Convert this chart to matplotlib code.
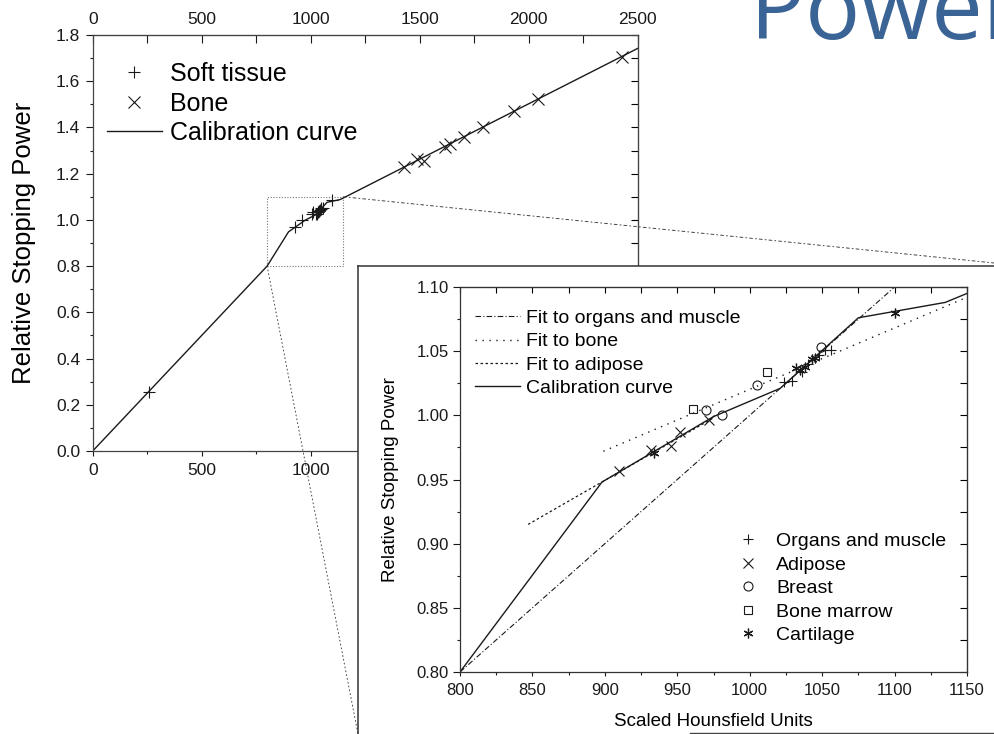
import matplotlib
matplotlib.use('Agg')
import matplotlib.pyplot as plt
from matplotlib.lines import Line2D
from matplotlib.patches import Rectangle, ConnectionPatch
from matplotlib.ticker import MultipleLocator, FormatStrFormatter, FuncFormatter

plt.rcParams['font.family'] = ['Liberation Sans', 'DejaVu Sans']

# ---------------- data ----------------
# calibration curve (scaled HU -> relative stopping power)
cal_hu = [0, 800, 898, 975, 1021, 1075, 1100, 1135, 1150, 2500]
cal_rsp = [0.0, 0.800, 0.948, 0.999, 1.021, 1.076, 1.081, 1.088, 1.095, 1.742]

# main plot markers
soft_hu = [258, 928, 959, 1005, 1012, 1024, 1029, 1032, 1035, 1038, 1040, 1043, 1045, 1049, 1056, 1099]
soft_rsp = [0.256, 0.971, 1.000, 1.024, 1.034, 1.026, 1.027, 1.036, 1.035, 1.038, 1.040, 1.044, 1.045,
            1.053, 1.051, 1.084]
bone_hu = [1429, 1486, 1520, 1616, 1639, 1705, 1790, 1934, 2044, 2427]
bone_rsp = [1.230, 1.262, 1.255, 1.317, 1.327, 1.360, 1.403, 1.473, 1.523, 1.704]

# inset markers
organ_hu = [1024, 1029, 1036, 1040, 1048, 1052, 1056]
organ_rsp = [1.026, 1.027, 1.034, 1.040, 1.047, 1.051, 1.051]
adipose_hu = [910, 932, 946, 952, 972]
adipose_rsp = [0.957, 0.973, 0.976, 0.987, 0.996]
breast_hu = [970, 981, 1005, 1049]
breast_rsp = [1.004, 1.000, 1.024, 1.053]
marrow_hu = [961, 1012]
marrow_rsp = [1.005, 1.034]
cart_hu = [934, 1032, 1035, 1038, 1043, 1045, 1100]
cart_rsp = [0.971, 1.037, 1.035, 1.038, 1.044, 1.045, 1.080]

# inset fit lines
fit_organ_hu = [800, 1100]
fit_organ_rsp = [0.800, 1.100]
fit_bone_hu = [899, 1150]
fit_bone_rsp = [0.972, 1.092]
fit_adipose_hu = [847, 975]
fit_adipose_rsp = [0.915, 0.998]

main_xticks = [0, 500, 1000, 1500, 2000, 2500]
inset_xlim = (800, 1150)
inset_ylim = (0.80, 1.10)

# ---------------- layout helpers ----------------
W, H = 995, 734
fig = plt.figure(figsize=(W / 100, H / 100), dpi=100)


def fx(px):
    return px / W


def fy(py):
    return 1 - py / H


INK = '#1a1a1a'
pl = fx(358)
ptop = fy(266)

# ---------------- main axes ----------------
ax = fig.add_axes([fx(92.7), fy(451), fx(637.7) - fx(92.7), fy(35) - fy(451)])
ax.set_zorder(1)
cal_line, = ax.plot(cal_hu, cal_rsp, color=INK, lw=1.0)
soft_pts, = ax.plot(soft_hu, soft_rsp, ls='none', marker='+', ms=8, mew=0.8, color=INK)
bone_pts, = ax.plot(bone_hu, bone_rsp, ls='none', marker='x', ms=8, mew=0.8, color=INK)
ax.add_patch(Rectangle((inset_xlim[0], inset_ylim[0]), inset_xlim[1] - inset_xlim[0],
                       inset_ylim[1] - inset_ylim[0], fill=False, ec='#777', lw=0.8,
                       ls=(0, (1, 1.5))))
ax.set_xlim(0, 2500)
ax.set_ylim(0, 1.8)
ax.set_xticks(main_xticks)
ax.xaxis.set_minor_locator(MultipleLocator(250))


def bottom_label(v, pos):
    # labels that fall under the overlaid inset panel are hidden there
    xpix = ax.transData.transform((v, 0))[0] / fig.dpi / fig.get_figwidth()
    return '' if xpix + 0.02 > pl else f'{v:.0f}'


ax.xaxis.set_major_formatter(FuncFormatter(bottom_label))
ax.yaxis.set_major_locator(MultipleLocator(0.2))
ax.yaxis.set_minor_locator(MultipleLocator(0.1))
ax.yaxis.set_major_formatter(FormatStrFormatter('%.1f'))
ax.tick_params(which='both', direction='out', labelsize=12.5, width=0.8, colors=INK)
ax.tick_params(axis='y', which='major', length=5, pad=4)
ax.tick_params(axis='y', which='minor', length=2.5)
ax.tick_params(axis='x', which='major', length=3.5, pad=5)
ax.tick_params(axis='x', which='minor', length=2.5)
for s in ax.spines.values():
    s.set_linewidth(0.9)
    s.set_color('#444')

top = ax.secondary_xaxis('top')
top.set_xticks(main_xticks)
top.xaxis.set_minor_locator(MultipleLocator(250))
top.tick_params(which='both', direction='in', length=6, width=0.8, pad=6, labelsize=12.5, colors=INK)
top.spines['top'].set_color('#444')
right = ax.secondary_yaxis('right')
right.yaxis.set_major_locator(MultipleLocator(0.2))
right.yaxis.set_minor_locator(MultipleLocator(0.1))
right.tick_params(which='both', direction='in', length=5, width=0.8, labelright=False)
right.spines['right'].set_color('#444')

ax.set_ylabel('Relative Stopping Power', fontsize=18.5, va='center')
ax.yaxis.set_label_coords((24 - 92.7) / 545, 0.5)

ax.legend([soft_pts, bone_pts, cal_line], ['Soft tissue', 'Bone', 'Calibration curve'],
          loc='upper left', bbox_to_anchor=(0.0262, 0.935), frameon=False, borderpad=0,
          borderaxespad=0, fontsize=18, handlelength=2.2, handletextpad=0.33,
          labelspacing=0.22)

# ---------------- panel behind the inset ----------------
panel = fig.add_axes([pl, -0.05, 1.05 - pl, ptop + 0.05])
panel.set_zorder(2)
panel.set_xticks([])
panel.set_yticks([])
panel.patch.set_facecolor('white')
for s in ['right', 'bottom']:
    panel.spines[s].set_visible(False)
for s in ['top', 'left']:
    panel.spines[s].set_linewidth(1.1)
    panel.spines[s].set_color('#333')

# connectors from the zoom box to the panel corners
con1 = ConnectionPatch(xyA=(inset_xlim[1], inset_ylim[1]), coordsA=ax.transData,
                       xyB=(1.0, ptop + 0.004), coordsB='figure fraction',
                       color='#444', lw=0.7, ls=(0, (3, 3, 1, 3)))
con1.set_zorder(1.5)
fig.add_artist(con1)
con2 = ConnectionPatch(xyA=(inset_xlim[0], inset_ylim[0]), coordsA=ax.transData,
                       xyB=(pl, 0.0), coordsB='figure fraction',
                       color='#444', lw=0.7, ls=(0, (1, 3, 1, 3)))
con2.set_zorder(1.5)
fig.add_artist(con2)

# ---------------- inset axes ----------------
ins = fig.add_axes([fx(460), fy(672), fx(967) - fx(460), fy(287) - fy(672)])
ins.set_zorder(3)
l_org, = ins.plot(fit_organ_hu, fit_organ_rsp, color=INK, lw=0.8, ls=(0, (5, 2, 1, 2)))
l_bone, = ins.plot(fit_bone_hu, fit_bone_rsp, color=INK, lw=1.0, ls=(0, (1, 4)))
l_adi, = ins.plot(fit_adipose_hu, fit_adipose_rsp, color=INK, lw=0.9, ls=(0, (2, 2)))
l_cal, = ins.plot(cal_hu, cal_rsp, color=INK, lw=1.0)

m_org, = ins.plot(organ_hu, organ_rsp, ls='none', marker='+', ms=7, mew=0.8, color=INK)
m_adi, = ins.plot(adipose_hu, adipose_rsp, ls='none', marker='x', ms=6.5, mew=0.8, color=INK)
m_br, = ins.plot(breast_hu, breast_rsp, ls='none', marker='o', ms=6.5, mew=0.8, mfc='none', color=INK)
m_mar, = ins.plot(marrow_hu, marrow_rsp, ls='none', marker='s', ms=6, mew=0.8, mfc='none', color=INK)
m_car, = ins.plot(cart_hu, cart_rsp, ls='none', marker=(6, 2, 0), ms=7, mew=0.9, color=INK)

ins.set_xlim(*inset_xlim)
ins.set_ylim(*inset_ylim)
ins.xaxis.set_major_locator(MultipleLocator(50))
ins.xaxis.set_minor_locator(MultipleLocator(25))
ins.yaxis.set_major_locator(MultipleLocator(0.05))
ins.yaxis.set_minor_locator(MultipleLocator(0.025))
ins.yaxis.set_major_formatter(FormatStrFormatter('%.2f'))
ins.tick_params(which='both', direction='out', labelsize=12, width=0.8, colors=INK)
ins.tick_params(axis='y', which='major', length=5, pad=3)
ins.tick_params(axis='y', which='minor', length=2.5)
ins.tick_params(axis='x', which='major', length=3, pad=5)
ins.tick_params(axis='x', which='minor', length=2.5)
for s in ins.spines.values():
    s.set_linewidth(0.9)
    s.set_color('#333')
itop = ins.secondary_xaxis('top')
itop.xaxis.set_major_locator(MultipleLocator(50))
itop.xaxis.set_minor_locator(MultipleLocator(25))
itop.tick_params(which='both', direction='in', length=4, width=0.8, labeltop=False)
iright = ins.secondary_yaxis('right')
iright.yaxis.set_major_locator(MultipleLocator(0.05))
iright.yaxis.set_minor_locator(MultipleLocator(0.025))
iright.tick_params(which='both', direction='in', length=5, width=0.8, labelright=False)

ins.set_xlabel('Scaled Hounsfield Units', fontsize=13.5, va='center')
ins.xaxis.set_label_coords(0.5, (672 - 721) / 385)
ins.set_ylabel('Relative Stopping Power', fontsize=13.5, va='center')
ins.yaxis.set_label_coords((391 - 460) / 507, 0.5)

leg1 = ins.legend([l_org, l_bone, l_adi, l_cal],
                  ['Fit to organs and muscle', 'Fit to bone', 'Fit to adipose', 'Calibration curve'],
                  loc='upper left', bbox_to_anchor=(0.0296, 0.942), frameon=False, borderpad=0,
                  borderaxespad=0, fontsize=14, handlelength=2.3, handletextpad=0.3,
                  labelspacing=0.3)
ins.add_artist(leg1)
ins.legend([m_org, m_adi, m_br, m_mar, m_car],
           ['Organs and muscle', 'Adipose', 'Breast', 'Bone marrow', 'Cartilage'],
           loc='upper left', bbox_to_anchor=(0.548, 0.362), frameon=False, borderpad=0,
           borderaxespad=0, fontsize=14, handlelength=1.0, handletextpad=0.96,
           labelspacing=0.3)

# stray border line at the very bottom of the slide image
fig.add_artist(Line2D([fx(690), 1.0], [fy(733), fy(733)], transform=fig.transFigure,
                      color='#444', lw=1.0, zorder=4))

# slide title fragment
fig.text(fx(750), fy(39), 'Power', fontsize=66, family=['Open Sans', 'DejaVu Sans'],
         color='#3b6496', ha='left', va='baseline', zorder=5)

fig.savefig('out.png', dpi=100)
